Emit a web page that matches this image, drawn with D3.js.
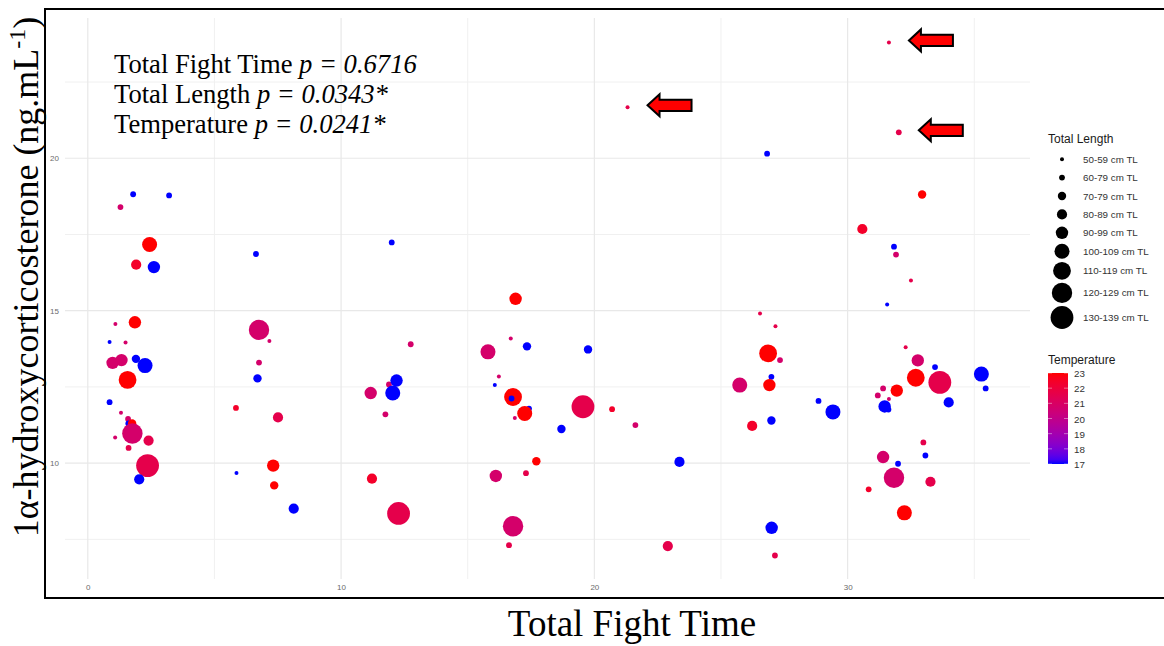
<!DOCTYPE html>
<html>
<head>
<meta charset="utf-8">
<script src="https://cdn.jsdelivr.net/npm/d3@7"></script>
<style>
    body { margin: 0; background: #fff; }
    svg { display: block; }
    .axis text { font-family: "Liberation Sans", Arial, sans-serif; font-size: 8px; fill: #6b6b6b; }
    .serif { font-family: "Liberation Serif", "Times New Roman", serif; fill: #000; }
    .legendTitle { font-family: "Liberation Sans", Arial, sans-serif; font-size: 12px; fill: #1a1a1a; }
    .legendLabel { font-family: "Liberation Sans", Arial, sans-serif; font-size: 9.8px; fill: #333; }
</style>
</head>
<body>
<div id="chart"></div>
<script>
// values, one entry per fish
const fightTime = [
    1.79, 3.21, 1.29, 2.44, 1.91, 2.61, 6.64, 1.86, 1.09, 0.86,
    1.49, 0.98, 1.33, 1.90, 2.26, 1.57, 0.86, 1.31, 1.59, 1.60,
    1.75, 1.76, 2.40, 1.08, 1.61, 2.36, 2.03, 6.76, 7.17, 6.76,
    6.70, 5.85, 7.51, 5.87, 7.32, 7.36, 8.13, 12.00, 12.75, 11.89,
    12.19, 11.17, 12.04, 11.75, 11.22, 12.27, 16.89, 16.70, 17.34, 19.75,
    15.80, 16.23, 16.07, 17.42, 16.79, 16.73, 17.25, 16.86, 19.55, 20.70,
    21.62, 18.70, 17.71, 23.36, 16.11, 17.30, 16.79, 16.63, 22.90, 21.31,
    26.82, 30.58, 26.54, 27.15, 26.86, 27.33, 26.99, 25.74, 26.91, 28.85,
    29.42, 26.23, 26.99, 27.00, 27.13, 30.83, 32.94, 31.83, 31.91, 32.50,
    31.56, 32.29, 32.77, 33.45, 32.69, 33.64, 35.28, 35.45, 31.40, 31.19,
    31.63, 31.94, 31.46, 31.61, 33.99, 32.99, 33.07, 31.40, 31.99, 31.83,
    33.27, 32.24, 31.63, 32.02
];
const hormone = [
    18.82, 18.78, 18.40, 17.17, 16.51, 16.43, 16.86, 14.62, 14.56, 13.97,
    13.96, 13.29, 13.38, 13.42, 13.20, 12.73, 12.00, 11.65, 11.45, 11.30,
    11.30, 10.97, 10.74, 10.84, 10.50, 9.92, 9.47, 14.37, 14.01, 13.30,
    12.78, 11.81, 11.50, 9.68, 9.92, 9.27, 8.51, 17.24, 13.90, 12.58,
    12.71, 12.30, 12.30, 11.60, 9.49, 8.35, 15.39, 14.09, 13.83, 13.73,
    13.65, 12.84, 12.56, 11.79, 12.17, 12.12, 11.63, 11.48, 11.85, 11.77,
    11.25, 11.12, 10.06, 10.04, 9.58, 9.67, 7.93, 7.31, 7.28, 21.67,
    20.15, 17.68, 14.91, 14.49, 13.60, 13.38, 12.83, 12.56, 12.56, 12.04,
    11.68, 11.22, 11.40, 7.88, 6.97, 9.14, 18.81, 17.10, 16.84, 15.99,
    15.20, 13.80, 13.37, 13.15, 12.80, 12.65, 12.92, 12.45, 12.45, 12.22,
    12.10, 12.38, 11.86, 11.76, 11.99, 10.68, 10.25, 10.20, 9.98, 9.52,
    9.39, 8.37, 23.80, 20.85
];
// index into lengthLabels
const lengthClass = [
    1, 1, 1, 5, 3, 4, 1, 4, 0, 0,
    0, 4, 4, 2, 5, 6, 1, 0, 1, 1,
    2, 7, 3, 0, 1, 8, 3, 7, 0, 1,
    2, 1, 3, 0, 4, 2, 3, 1, 1, 1,
    4, 4, 5, 1, 3, 8, 4, 0, 2, 2,
    5, 0, 0, 1, 6, 1, 5, 0, 8, 1,
    1, 2, 2, 3, 4, 1, 7, 1, 3, 0,
    1, 3, 0, 0, 6, 1, 1, 5, 4, 1,
    5, 3, 2, 4, 1, 1, 2, 1, 1, 0,
    0, 0, 4, 1, 6, 8, 5, 1, 1, 1,
    0, 4, 4, 1, 3, 1, 1, 4, 1, 7,
    3, 5, 0, 1
];
const temperature = [
    17, 17, 20.8, 23, 22.4, 17, 17, 23, 20.8, 17,
    20.8, 20.8, 20.8, 17, 17, 23, 17, 20.8, 20.8, 17,
    23, 20.8, 21.6, 20.8, 21.6, 21.6, 17, 20.8, 20.8, 20.8,
    17, 22.4, 21.6, 17, 23, 23, 17, 17, 20.8, 20.8,
    17, 20.8, 17, 20.8, 22.4, 21.6, 23, 20.8, 17, 17,
    20.8, 20.8, 17, 17, 23, 17, 23, 20.8, 21.6, 22.4,
    20.8, 17, 23, 17, 20.8, 21.6, 20.8, 21.6, 21.6, 21.6,
    17, 22.4, 21.6, 21.6, 23, 20.8, 17, 20.8, 23, 17,
    17, 22.4, 17, 17, 21.6, 22.4, 23, 17, 20.8, 21.6,
    17, 21.6, 20.8, 17, 23, 21.6, 17, 17, 20.8, 20.8,
    20.8, 23, 17, 17, 17, 21.6, 17, 20.8, 17, 20.8,
    21.6, 23, 21.6, 21.6
];

const lengthLabels = ["50-59 cm TL", "60-79 cm TL", "70-79 cm TL", "80-89 cm TL", "90-99 cm TL",
    "100-109 cm TL", "110-119 cm TL", "120-129 cm TL", "130-139 cm TL"];
const tempTicks = [17, 18, 19, 20, 21, 22, 23];
const xTicks = [0, 10, 20, 30];
const xMinor = [5, 15, 25, 35];
const yTicks = [10, 15, 20];
const yMinor = [7.5, 12.5, 17.5, 22.5];
// the three outliers marked with arrows
const flaggedHormone = [21.67, 23.80, 20.85];
const statNames = ["Total Fight Time", "Total Length", "Temperature"];
const statP = ["0.6716", "0.0343*", "0.0241*"];

const width = 1164;
const height = 646;

const svg = d3.select("#chart")
    .append("svg")
    .attr("width", width)
    .attr("height", height);

const points = fightTime.map((t, i) => ({ x: t, y: hormone[i], len: lengthClass[i], temp: temperature[i] }));

// scales
const xScale = d3.scaleLinear().domain([-0.9, 37.2]).range([65, 1030]);
const yScale = d3.scaleLinear().domain([6.2, 24.6]).range([579, 18]);
const colorScale = d3.scaleLinear()
    .domain([17, 23])
    .range(["blue", "red"])
    .interpolate(d3.interpolateLab);
const sizeScale = d3.scaleOrdinal()
    .domain(d3.range(lengthLabels.length))
    .range([2, 2.9, 4.2, 5.1, 6.2, 7.5, 8.9, 10.2, 11.4]);

// grid
const grid = svg.append("g");
grid.selectAll(".vminor").data(xMinor).join("line")
    .attr("x1", d => xScale(d)).attr("x2", d => xScale(d))
    .attr("y1", yScale.range()[0]).attr("y2", yScale.range()[1])
    .attr("stroke", "#f0f0f0").attr("stroke-width", 1);
grid.selectAll(".hminor").data(yMinor).join("line")
    .attr("x1", xScale.range()[0]).attr("x2", xScale.range()[1])
    .attr("y1", d => yScale(d)).attr("y2", d => yScale(d))
    .attr("stroke", "#f0f0f0").attr("stroke-width", 1);
grid.selectAll(".vmajor").data(xTicks).join("line")
    .attr("x1", d => xScale(d)).attr("x2", d => xScale(d))
    .attr("y1", yScale.range()[0]).attr("y2", yScale.range()[1])
    .attr("stroke", "#e8e8e8").attr("stroke-width", 1.2);
grid.selectAll(".hmajor").data(yTicks).join("line")
    .attr("x1", xScale.range()[0]).attr("x2", xScale.range()[1])
    .attr("y1", d => yScale(d)).attr("y2", d => yScale(d))
    .attr("stroke", "#e8e8e8").attr("stroke-width", 1.2);

// axes (labels only, like theme_minimal)
const xAxis = svg.append("g")
    .attr("class", "axis")
    .attr("transform", `translate(0,${yScale.range()[0]})`)
    .call(d3.axisBottom(xScale).tickValues(xTicks).tickSize(0).tickPadding(5));
const yAxis = svg.append("g")
    .attr("class", "axis")
    .attr("transform", `translate(${xScale.range()[0]},0)`)
    .call(d3.axisLeft(yScale).tickValues(yTicks).tickSize(0).tickPadding(6));
svg.selectAll(".axis .domain").remove();

// bubbles
svg.append("g")
    .selectAll("circle")
    .data(points)
    .join("circle")
    .attr("cx", d => xScale(d.x))
    .attr("cy", d => yScale(d.y))
    .attr("r", d => sizeScale(d.len))
    .attr("fill", d => colorScale(d.temp));

// red arrows pointing at the outliers
const arrowShape = "M0,0 L12,-11 L12,-5.7 L44,-5.7 L44,5.7 L12,5.7 L12,11 Z";
svg.append("g")
    .selectAll("path")
    .data(points.filter(d => flaggedHormone.includes(d.y)))
    .join("path")
    .attr("d", arrowShape)
    .attr("transform", d => `translate(${xScale(d.x) + 20},${yScale(d.y) - 2})`)
    .attr("fill", "#ff0000")
    .attr("stroke", "#000")
    .attr("stroke-width", 2)
    .attr("stroke-linejoin", "miter");

// p-value annotation
const note = svg.append("g");
statNames.forEach((name, i) => {
    const t = note.append("text")
        .attr("class", "serif")
        .attr("x", 114)
        .attr("y", 73 + i * 30)
        .attr("font-size", 26.6);
    t.append("tspan").text(name + " ");
    t.append("tspan").attr("font-style", "italic").text("p = " + statP[i]);
});

// frame around the picture
svg.append("rect")
    .attr("x", 45)
    .attr("y", 9)
    .attr("width", 1130)
    .attr("height", 589)
    .attr("fill", "none")
    .attr("stroke", "#000")
    .attr("stroke-width", 2);

// axis titles
svg.append("text")
    .attr("class", "serif")
    .attr("x", 632)
    .attr("y", 636)
    .attr("text-anchor", "middle")
    .attr("font-size", 37)
    .text("Total Fight Time");

const yTitle = svg.append("text")
    .attr("class", "serif")
    .attr("transform", "translate(38,277) rotate(-90)")
    .attr("text-anchor", "middle")
    .attr("font-size", 36);
yTitle.append("tspan").text("1α-hydroxycorticosterone (ng.mL");
yTitle.append("tspan").attr("font-size", 24).attr("dy", -13).text("-1");
yTitle.append("tspan").attr("dy", 13).text(")");

// size legend
const legend = svg.append("g");
legend.append("text")
    .attr("class", "legendTitle")
    .attr("x", 1048)
    .attr("y", 143)
    .text("Total Length");

let keyY = 150;
const keys = lengthLabels.map((label, i) => {
    const r = sizeScale(i);
    const h = Math.max(18.4, 2 * r + 3);
    const k = { label: label, r: r, cy: keyY + h / 2 };
    keyY += h;
    return k;
});
legend.selectAll("circle")
    .data(keys)
    .join("circle")
    .attr("cx", 1062)
    .attr("cy", d => d.cy)
    .attr("r", d => d.r)
    .attr("fill", "#000");
legend.selectAll(".legendLabel")
    .data(keys)
    .join("text")
    .attr("class", "legendLabel")
    .attr("x", 1083)
    .attr("y", d => d.cy + 3.5)
    .text(d => d.label);

// temperature colour bar
const barScale = d3.scaleLinear().domain([17, 23]).range([464, 373]);
const defs = svg.append("defs");
const grad = defs.append("linearGradient")
    .attr("id", "tempGrad")
    .attr("x1", 0).attr("y1", 1).attr("x2", 0).attr("y2", 0);
grad.selectAll("stop")
    .data(d3.range(0, 1.0001, 0.05))
    .join("stop")
    .attr("offset", d => d)
    .attr("stop-color", d => colorScale(17 + d * 6));

legend.append("text")
    .attr("class", "legendTitle")
    .attr("x", 1048)
    .attr("y", 364)
    .text("Temperature");
legend.append("rect")
    .attr("x", 1048)
    .attr("y", barScale(23))
    .attr("width", 20)
    .attr("height", barScale(17) - barScale(23))
    .attr("fill", "url(#tempGrad)");
legend.selectAll(".barTick")
    .data(tempTicks)
    .join("path")
    .attr("d", d => `M1048,${barScale(d)}h4M1064,${barScale(d)}h4`)
    .attr("stroke", "#fff")
    .attr("stroke-opacity", 0.7)
    .attr("stroke-width", 0.6);
legend.selectAll(".tempLabel")
    .data(tempTicks)
    .join("text")
    .attr("class", "legendLabel")
    .attr("x", 1074)
    .attr("y", d => barScale(d) + 4)
    .text(d => d);
</script>
</body>
</html>
